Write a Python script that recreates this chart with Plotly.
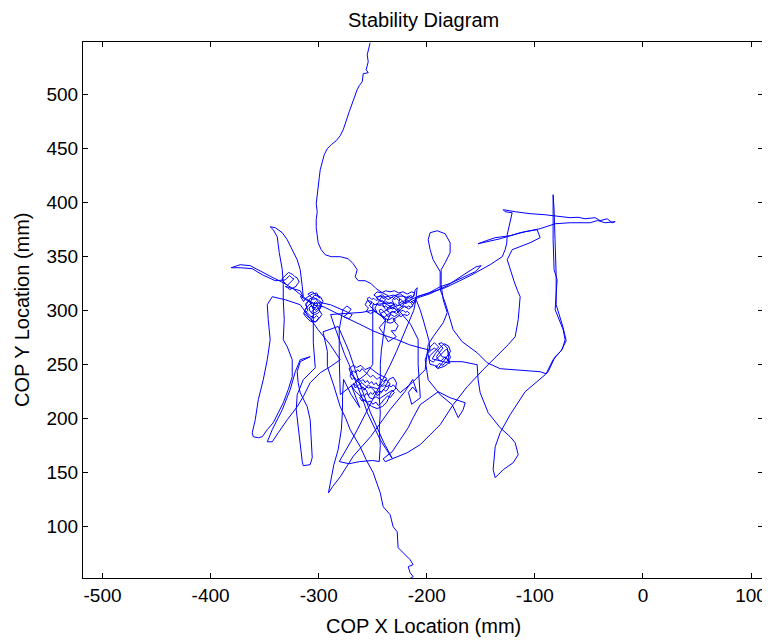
import plotly.graph_objects as go

# COP trace (mm), in drawing order
descent = [(-252.4, 547.4), (-253.3, 542.8), (-255.1, 536.3), (-254.2, 529.8), (-256.1, 522.5),
           (-254.2, 519.7), (-258.8, 518.8), (-259.7, 511.4), (-262.5, 507.7), (-264.4, 504.0),
           (-266.2, 499.3), (-268.1, 494.7), (-269.9, 488.2), (-271.8, 483.6), (-273.6, 478.0),
           (-275.5, 472.5), (-277.3, 467.0), (-280.1, 461.4), (-283.8, 456.8), (-288.4, 453.1),
           (-292.1, 449.4), (-294.9, 443.8), (-296.7, 436.4), (-298.6, 430.0), (-299.5, 422.6),
           (-300.5, 415.2), (-301.4, 406.9), (-302.3, 398.5), (-301.4, 391.1), (-302.3, 383.7),
           (-302.3, 376.3), (-301.4, 368.9), (-300.5, 362.4), (-297.7, 356.0), (-294.0, 351.3),
           (-288.4, 349.5), (-280.1, 349.5), (-272.7, 347.6), (-268.1, 343.0), (-264.4, 337.5),
           (-266.2, 330.9), (-263.4, 327.3), (-257.0, 327.3), (-251.4, 324.5), (-246.8, 319.9),
           (-241.2, 316.2), (-235.7, 313.4)]

cluster_top = [(-236, 313), (-234, 311), (-232, 312), (-230, 310), (-228, 311), (-226, 309),
               (-224, 310), (-222, 308), (-220, 309), (-218, 307), (-216, 308), (-214, 306),
               (-213, 304), (-215, 303), (-217, 304), (-219, 302), (-221, 304), (-223, 303),
               (-225, 305), (-227, 304), (-229, 306), (-231, 305), (-233, 307), (-235, 306),
               (-237, 308), (-239, 307), (-241, 309), (-243, 308), (-245, 310), (-247, 309),
               (-249, 311), (-251, 310), (-253, 312), (-255, 311), (-254, 308), (-252, 306),
               (-250, 307), (-248, 305), (-246, 306), (-244, 304), (-242, 305), (-240, 303),
               (-238, 304), (-236, 302), (-234, 303), (-232, 301), (-230, 302), (-228, 300),
               (-226, 301), (-224, 299), (-222, 300), (-220, 298), (-218, 299), (-216, 297),
               (-218, 295), (-221, 296), (-224, 294), (-227, 296), (-230, 294), (-233, 296),
               (-236, 294), (-238, 297), (-240, 299), (-242, 301), (-244, 300), (-243, 297),
               (-241, 295), (-238, 292), (-235, 291), (-232, 293), (-229, 291), (-231, 289),
               (-234, 288), (-237, 289), (-233, 298), (-229, 299), (-225, 302), (-221, 306),
               (-218, 311), (-215, 314), (-213, 312), (-211, 316), (-214, 317), (-218, 315),
               (-222, 317), (-226, 316), (-230, 318), (-234, 317), (-238, 318), (-242, 316),
               (-246, 317), (-249, 314), (-246, 312), (-243, 313), (-239, 312), (-235, 313),
               (-231, 314), (-227, 313), (-222, 313), (-216, 311), (-212, 313), (-210.7, 319.0),
               (-208.9, 320.8), (-209.8, 312.5)]

scribble_top = [(-212, 306), (-215, 309), (-213, 311), (-217, 313), (-220, 311), (-219, 306),
                (-223, 308), (-226, 306), (-225, 311), (-229, 313), (-232, 309), (-230, 305),
                (-234, 304), (-237, 301), (-235, 298), (-239, 302), (-241, 306), (-238, 310),
                (-242, 312), (-245, 307), (-248, 302), (-246, 298), (-250, 301), (-253, 304),
                (-251, 308), (-255, 309), (-257, 305), (-254, 302), (-256, 299), (-252, 297),
                (-248, 299), (-244, 296), (-240, 293), (-236, 296), (-232, 299), (-228, 297),
                (-224, 301), (-220, 304), (-217, 301), (-214, 303), (-211, 308)]

spike_right = [(-208.9, 312.5), (-198, 316), (-187.6, 321.7), (-178, 325), (-169.1, 329.1),
               (-155.2, 335.6), (-149.7, 341.2), (-154.3, 340.2), (-167.3, 331.9), (-181.2, 322.7),
               (-196.9, 315.3), (-208.0, 311.6)]

cluster_mid = [(-215.4, 306.9), (-220.0, 311.6), (-224.6, 315.3), (-230.2, 313.4), (-235.7, 309.7),
               (-241.2, 314.3), (-246.8, 311.6), (-238.5, 306.0), (-229.2, 301.4), (-224.6, 295.8),
               (-231.1, 291.2), (-226.5, 285.7), (-229, 281), (-232.9, 281.0), (-228.3, 275.5),
               (-235.7, 270.8), (-239.4, 277.3), (-244.0, 283.8), (-238.5, 290.3), (-243.1, 296.8),
               (-236.6, 300.5), (-222.8, 306.0), (-208.9, 312.5), (-196, 317)]

right_top = [(-183.0, 320.8), (-170, 327), (-159.9, 331.9), (-141.4, 342.1), (-130.2, 349.5),
             (-127.5, 356.0), (-126, 362), (-125.6, 369.8), (-122.9, 383.7), (-121.0, 390.2),
             (-127.5, 391.1), (-129.3, 393.0), (-118.2, 391.1), (-104.4, 389.3), (-90.5, 388.3),
             (-83.1, 387.4), (-67.4, 385.6), (-60, 386), (-53.5, 384.6), (-44.2, 385.6),
             (-39.6, 382.8), (-33.1, 384.6), (-28.5, 380.9), (-25.7, 381.9), (-35.0, 380.9),
             (-42, 383), (-48.9, 380.9), (-67.4, 380.9), (-81.2, 380.0), (-95.1, 375.4),
             (-113.6, 371.7), (-132.1, 366.1), (-146.0, 363.4), (-152.5, 361.5), (-145.0, 364.3),
             (-136.7, 367.1), (-122.9, 368.9), (-109.0, 372.6), (-97.9, 374.5), (-95.1, 367.1),
             (-104.4, 362.4), (-121.0, 356.0), (-125.6, 346.7), (-122.9, 337.5), (-119.1, 326.4),
             (-116, 318), (-113.6, 312.5), (-115.4, 291.2), (-118.2, 275.5), (-124.7, 268.1),
             (-132.1, 260.7), (-147.9, 245.0), (-162.6, 229.2), (-175.6, 212.6), (-187.6, 194.1),
             (-206.1, 175.6), (-218.1, 168.2), (-229.2, 163.5), (-238.5, 159.9), (-240.3, 162.6),
             (-232.0, 169.1), (-224.6, 180.2), (-217.2, 191.3), (-212.6, 200.6), (-206.1, 212.6),
             (-189.4, 224.6), (-178.4, 219.0), (-164.5, 214.4), (-166.3, 208.0), (-170.9, 200.6),
             (-176.5, 212.6), (-187.6, 221.8), (-198.7, 235.7), (-201.5, 254.2)]

cluster_right = [(-197, 266), (-195, 268), (-193, 270), (-191, 268), (-189, 266), (-191, 264),
                 (-193, 262), (-195, 260), (-197, 258), (-198, 255), (-196, 253), (-194, 252),
                 (-192, 254), (-190, 256), (-188, 258), (-186, 260), (-184, 262), (-182, 264),
                 (-180, 262), (-179, 259), (-178, 256), (-180, 254), (-182, 252), (-184, 250),
                 (-186, 249), (-188, 251), (-190, 249), (-192, 248), (-190, 246), (-187, 247),
                 (-184, 248), (-181, 250), (-179, 252), (-181, 255), (-183, 257), (-185, 255),
                 (-187, 253), (-189, 254), (-191, 257), (-189, 260), (-187, 263), (-185, 265),
                 (-187, 267), (-189, 269), (-186, 270), (-183, 267), (-181, 265), (-179, 251),
                 (-182, 256), (-186, 257), (-189, 262), (-193, 265), (-196, 263), (-199, 260),
                 (-197, 250), (-193, 249), (-189, 247), (-185, 252), (-181, 258), (-178, 262),
                 (-180, 267), (-184, 269), (-188, 265), (-192, 260), (-195, 255), (-179, 251)]

lower_loop = [(-178.4, 252.4), (-167.3, 252.4), (-153.4, 249.6), (-152.5, 235.7), (-150.6, 223.7),
              (-143.2, 205.2), (-132.1, 191.3), (-122.9, 183.0), (-118.2, 177.4), (-115.4, 166.3),
              (-120.1, 158.9), (-129.3, 152.5), (-136.7, 145.1), (-138.6, 152.5), (-136.7, 173.7),
              (-132.1, 186.7), (-122.9, 203.3), (-109.0, 224.6), (-90.5, 240.3), (-87.7, 243.1),
              (-81.2, 257.0), (-74.7, 263.5), (-72.0, 272.7), (-73.8, 282.0), (-81.2, 300.5),
              (-79.4, 328.2), (-82.2, 337.5), (-83.1, 365.2), (-83.1, 387.4), (-83.1, 406.8),
              (-82.2, 393.0), (-81.2, 365.2), (-80.3, 332.8), (-80.3, 305.1), (-73.8, 283.8),
              (-71.0, 271.8), (-75.7, 262.5), (-83.1, 254.2), (-89.6, 241.2)]

tall_loop = [(-95.1, 243.1), (-110.8, 244.0), (-132.1, 245.9), (-144.1, 251.4), (-153.4, 260.7),
             (-167.3, 270.9), (-175.6, 282.0), (-180.2, 297.7), (-183.0, 306.9), (-187.6, 319.0),
             (-187.6, 335.6), (-194.1, 346.7), (-196.9, 356.0), (-198.7, 365.2), (-196.9, 371.7),
             (-190.4, 373.5), (-183.0, 370.7), (-178.4, 362.4), (-178.4, 353.2), (-183.0, 343.9),
             (-186.7, 337.5), (-186.7, 323.6), (-184.8, 309.7), (-181.1, 297.7), (-184.8, 288.4),
             (-194.1, 275.5), (-198.7, 268.1), (-201.5, 245.0), (-213.5, 233.0), (-224.6, 223.7)]

cluster_low = [(-231, 231), (-233, 229), (-235, 231), (-237, 229), (-239, 231), (-241, 229),
               (-243, 232), (-245, 230), (-247, 233), (-249, 231), (-251, 234), (-253, 232),
               (-255, 235), (-257, 233), (-259, 236), (-261, 234), (-263, 237), (-265, 235),
               (-267, 238), (-269, 236), (-271, 239), (-270, 242), (-268, 244), (-266, 242),
               (-264, 245), (-262, 243), (-260, 246), (-258, 244), (-256, 242), (-254, 240),
               (-252, 238), (-250, 240), (-248, 238), (-246, 236), (-244, 238), (-242, 236),
               (-240, 234), (-238, 236), (-236, 234), (-234, 232), (-236, 227), (-238, 225),
               (-240, 227), (-242, 224), (-244, 226), (-246, 223), (-248, 225), (-250, 222),
               (-252, 224), (-254, 221), (-256, 223), (-258, 220), (-260, 222), (-262, 219),
               (-260, 216), (-257, 217), (-255, 215), (-252, 216), (-250, 213), (-247, 215),
               (-245, 212), (-242, 214), (-240, 217), (-238, 219), (-236, 221), (-234, 219),
               (-232, 222), (-230, 224), (-232, 226), (-235, 224), (-238, 222), (-241, 220),
               (-244, 218), (-247, 220), (-250, 218), (-253, 219), (-256, 226), (-259, 229),
               (-262, 227), (-265, 230), (-268, 232), (-266, 228), (-263, 231), (-260, 233),
               (-257, 230), (-254, 228), (-251, 229), (-248, 228), (-245, 227), (-243, 229)]

scribble_low = [(-240, 232), (-237, 237), (-241, 239), (-245, 241), (-249, 244), (-253, 247),
                (-257, 245), (-261, 249), (-265, 247), (-268, 249), (-272, 246), (-270, 241),
                (-266, 236), (-262, 232), (-258, 226), (-254, 231), (-249, 226), (-246, 221),
                (-243, 223), (-239, 228), (-235, 236), (-231, 238), (-228, 233), (-229, 227),
                (-233, 224), (-237, 215), (-241, 211), (-246, 209), (-251, 211), (-255, 214),
                (-259, 218), (-263, 222), (-267, 226), (-270, 231)]

v_bottom = [(-262, 210), (-270, 222), (-277, 236), (-278, 220), (-278, 208),
            (-279, 190), (-282, 171), (-286, 157), (-289, 143), (-291, 131), (-287, 137),
            (-280, 146), (-268, 165), (-252, 183), (-234, 208), (-220, 225), (-213, 236),
            (-209, 224), (-213, 229), (-217, 224), (-214, 213), (-206, 219), (-208, 250),
            (-208, 273), (-215, 287), (-220, 293), (-226, 300), (-232, 307), (-250, 305),
            (-250, 273), (-250, 250), (-256, 241), (-280, 222), (-281, 254), (-281, 282),
            (-278, 299)]

cluster_left = [(-278, 300), (-274, 304), (-270, 301), (-273, 297), (-277, 294), (-272, 292),
                (-269, 296), (-275, 299), (-289, 305), (-298, 307), (-305, 306), (-303, 308),
                (-301, 306), (-302, 303), (-305, 302), (-307, 304), (-309, 302), (-308, 299),
                (-306, 297), (-303, 298), (-300, 300), (-298, 302), (-299, 305), (-297, 307),
                (-300, 309), (-302, 311), (-305, 310), (-308, 311), (-310, 308), (-312, 306),
                (-311, 303), (-313, 300), (-311, 298), (-309, 296), (-307, 294), (-304, 293),
                (-302, 295), (-300, 293), (-302, 290), (-305, 289), (-308, 290), (-310, 292),
                (-312, 294), (-314, 297), (-312, 301), (-309, 305), (-306, 307), (-304, 305),
                (-301, 303), (-299, 299), (-301, 297), (-304, 296), (-307, 298), (-305, 300),
                (-303, 302), (-306, 303), (-308, 307), (-306, 311), (-304, 314), (-301, 313),
                (-299, 311), (-302, 316), (-306, 315), (-309, 313), (-312, 311), (-314, 308),
                (-317, 313)]

scribble_left = [(-306, 306), (-309, 309), (-312, 305), (-310, 300), (-313, 297), (-309, 293),
                 (-305, 295), (-307, 291), (-303, 289), (-300, 292), (-297, 296), (-300, 301),
                 (-297, 304), (-300, 307), (-303, 311), (-307, 312), (-310, 315), (-306, 317),
                 (-302, 314), (-298, 312), (-296, 308), (-299, 303), (-303, 300), (-306, 302),
                 (-304, 306), (-314, 312)]

left_tip = [(-323.6, 319.9), (-332.8, 325.4), (-342.1, 330.0), (-351.3, 334.7), (-356.9, 337.5),
            (-363.4, 341.2), (-372.6, 342.1), (-380.0, 340.2), (-380.9, 339.3), (-372.6, 339.3),
            (-361.5, 338.4), (-352.2, 332.8), (-340.2, 327.3), (-331, 328), (-329, 330),
            (-327, 332), (-325, 330), (-323, 329), (-325, 327), (-327, 325), (-329, 323),
            (-331, 325), (-333, 327), (-334, 329), (-332, 331), (-330, 333), (-328, 335),
            (-326, 334), (-324, 333), (-322, 331), (-320, 330), (-319, 328), (-318, 326),
            (-320, 324), (-321, 322), (-323, 321), (-325, 320), (-327, 319), (-329, 321),
            (-331, 322), (-317.1, 318.0), (-314.3, 312.5)]

left_loops = [(-315.2, 321.7), (-316.2, 331.0), (-317.1, 337.5), (-319.9, 346.7), (-324.5, 356.0),
              (-329.1, 365.2), (-333.7, 371.7), (-340.2, 376.3), (-344.9, 377.2), (-342.1, 374.5),
              (-338.4, 368.0), (-336.5, 353.2), (-333.7, 337.5), (-332.8, 323.6), (-332.8, 309.7),
              (-331.9, 291.2), (-332.8, 272.7), (-329.1, 266.2), (-324.5, 254.2), (-324.5, 238.5),
              (-328.2, 226.5), (-332.8, 214.4), (-337.4, 205.2), (-342.1, 195.9), (-347.6, 189.5),
              (-352.2, 183.0), (-355.9, 182.0), (-360.6, 183.0), (-361.5, 186.7), (-358.7, 198.7),
              (-355.9, 217.2), (-351.3, 235.7), (-347.6, 254.2), (-344.9, 272.7), (-346.7, 291.2),
              (-347.6, 305.1), (-343.0, 312.5), (-331.0, 309.7), (-317.1, 305.1), (-300.5, 281.9),
              (-289.4, 268.1), (-280.1, 254.2), (-289.4, 247.7), (-298.6, 242.2), (-307.9, 232.9),
              (-314.3, 220.0), (-319.9, 210.7), (-329.1, 198.7), (-337.4, 186.7), (-343.0, 178.3),
              (-347.6, 178.3), (-343.0, 189.5), (-333.7, 208.0), (-326.4, 226.5), (-321.7, 243.1),
              (-317.1, 254.2), (-307.9, 257.0), (-317.1, 252.4), (-319.9, 243.1), (-319.0, 232.9),
              (-317.1, 223.7), (-310.6, 210.7), (-307.9, 198.7), (-306.9, 180.2), (-306.0, 163.6),
              (-307.9, 157.1), (-314.3, 156.2), (-315.2, 159.9), (-316.2, 169.1), (-317.1, 180.2),
              (-319.0, 192.2), (-320.8, 208.0), (-319.9, 221.8), (-314.3, 235.7), (-303.2, 246.8)]

crossings = [(-305, 270), (-305, 305), (-295, 303), (-285, 298), (-272, 292), (-262, 287),
             (-250, 281), (-240, 277), (-228, 273), (-216, 268), (-205, 265), (-197, 263),
             (-198, 272), (-200, 280), (-203, 290), (-206, 300), (-210, 310), (-212, 300),
             (-217, 288), (-222, 275), (-228, 262), (-234, 249), (-240, 237), (-246, 225),
             (-252, 213), (-258, 201), (-264, 190), (-270, 179), (-276, 168), (-281, 160),
             (-272, 158), (-262, 160), (-250, 161), (-244, 160), (-243, 175), (-244, 190),
             (-243, 205), (-244, 220), (-243, 235), (-243, 250), (-242, 263), (-240, 280),
             (-238, 292), (-250, 300), (-260, 298), (-275, 297), (-289, 296), (-286, 287),
             (-283, 278), (-280, 270), (-276, 259), (-272, 250), (-268, 240), (-263, 228),
             (-258, 214), (-255, 205), (-250, 195), (-246, 186), (-243, 180), (-238, 172),
             (-232, 163), (-240, 178), (-252, 205), (-262, 232), (-272, 262), (-282, 285),
             (-296, 280), (-292, 262), (-292, 248), (-286, 230)]

tail = [(-280.1, 210.7), (-275, 200), (-270.9, 189.5), (-261.6, 173.7), (-256.1, 161.7),
        (-249.6, 149.7), (-246, 140), (-243.1, 131.2), (-240.3, 118.2), (-233.9, 110.8),
        (-231.1, 99.7), (-227.4, 95.1), (-226.5, 80.3), (-221.8, 75.7), (-215.4, 69.2),
        (-212.6, 64.6), (-217.2, 62.7), (-215.4, 57.2), (-212.6, 53.5), (-217.2, 50.7),
        (-215.4, 46.1)]

segments = [descent, cluster_top, scribble_top, spike_right, cluster_mid, right_top,
            cluster_right, lower_loop, tall_loop, cluster_low, scribble_low, v_bottom,
            cluster_left, scribble_left, left_tip, left_loops, crossings, tail]

cop_x = [p[0] for seg in segments for p in seg]
cop_y = [p[1] for seg in segments for p in seg]

x_ticks = [-500, -400, -300, -200, -100, 0, 100]
x_labels = ["-500", "-400", "-300", "-200", "-100", "0", "100"]
y_ticks = [100, 150, 200, 250, 300, 350, 400, 450, 500]

font = dict(family="Liberation Sans, Arial, sans-serif", size=19, color="black")
label_font = dict(family="Liberation Sans, Arial, sans-serif", size=20, color="black")

fig = go.Figure()
fig.add_trace(go.Scatter(x=cop_x, y=cop_y, mode="lines",
                         line=dict(color="#0000ff", width=1), hoverinfo="skip"))

axis_style = dict(showgrid=False, zeroline=False, showline=True, linecolor="black",
                  linewidth=1, ticks="inside", ticklen=5, tickcolor="black",
                  mirror="ticks", tickfont=font, automargin=False)

# page body adds an 8px offset, so the figure is 8px smaller and margins shifted
fig.update_layout(
    width=762, height=632,
    margin=dict(l=75, r=7, t=34, b=62),
    paper_bgcolor="white", plot_bgcolor="white",
    showlegend=False,
    xaxis=dict(range=[-518.1, 111.1], tickvals=x_ticks, ticktext=x_labels, **axis_style),
    yaxis=dict(range=[52.3, 548.1], tickvals=y_ticks, **axis_style),
    annotations=[
        dict(text="Stability Diagram", x=0.5, y=1 + 22 / 536, xref="paper", yref="paper",
             yanchor="middle", showarrow=False, font=label_font),
        dict(text="COP X Location (mm)", x=0.5, y=-48 / 536, xref="paper", yref="paper",
             yanchor="middle", showarrow=False, font=label_font),
        dict(text="COP Y Location (mm)", x=-61 / 680, y=0.5, xref="paper", yref="paper",
             xanchor="center", showarrow=False, textangle=-90, font=label_font),
    ],
)

fig.write_html("out.html")
